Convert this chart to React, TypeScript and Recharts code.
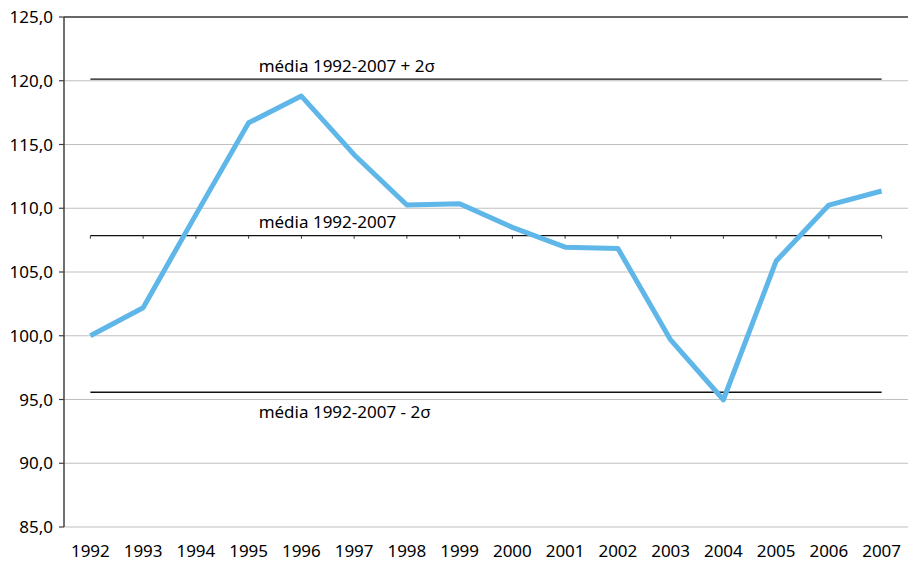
import React from "react";
import {
  LineChart,
  Line,
  XAxis,
  YAxis,
  CartesianGrid,
  ReferenceLine,
} from "recharts";

const years = ["1992","1993","1994","1995","1996","1997","1998","1999","2000","2001","2002","2003","2004","2005","2006","2007"];
const index = [100.0, 102.2, 109.5, 116.7, 118.8, 114.2, 110.25, 110.35, 108.5, 106.95, 106.85, 99.67, 94.98, 105.86, 110.25, 111.35];
const mean = 107.85;
const twoSigma = 12.28;
const yTicks = [85, 90, 95, 100, 105, 110, 115, 120, 125];
const boundaryTicks = [0,1,2,3,4,5,6,7,8,9,10,11,12,13,14,15,16];
const labelUpper = "média 1992-2007 + 2σ";
const labelMean = "média 1992-2007";
const labelLower = "média 1992-2007 - 2σ";
const labelYearIndex = 3;

const data = years.map((y, i) => ({
  year: y,
  idx: i + 0.5,
  value: index[i],
  mean: mean,
  upper: mean + twoSigma,
  lower: mean - twoSigma,
}));

const FONT = "'Noto Sans', 'Open Sans', sans-serif";

const makeLabel = (text: string, dy: number) => (props: any) => {
  const { x, y, index: i } = props;
  if (i !== labelYearIndex) return null;
  return (
    <text x={x + 10} y={y + dy} fontSize={17} fontFamily={FONT} fill="#000" textAnchor="start">
      {text}
    </text>
  );
};

const MeanTickDot = (props: any) => {
  const { cx, cy, index: i } = props;
  if (cx == null || cy == null) return null;
  return <line key={`mt-${i}`} x1={cx} x2={cx} y1={cy} y2={cy + 3} stroke="#333" strokeWidth={1} />;
};

const fmt = (v: number) => v.toFixed(1).replace(".", ",");

export default function App() {
  return (
    <div style={{ position: "absolute", left: 0, top: 0, width: 908, height: 561, background: "#fff" }}>
      <LineChart
        width={908}
        height={561}
        data={data}
        margin={{ top: 17, right: 0, bottom: 0, left: 0 }}
      >
        <CartesianGrid horizontal vertical={false} stroke="#c0c0c0" strokeWidth={1.2} xAxisId="cat" yAxisId="y" />
        <XAxis
          xAxisId="cat"
          dataKey="year"
          type="category"
          scale="band"
          height={34}
          tickSize={0}
          tickMargin={18}
          axisLine={false}
          tickLine={false}
          interval={0}
          tick={{ fontSize: 17, fontFamily: FONT, fill: "#000" }}
        />
        <XAxis
          xAxisId="grid"
          dataKey="idx"
          type="number"
          domain={[0, 16]}
          allowDataOverflow
          ticks={boundaryTicks}
          tick={false}
          tickSize={4}
          height={0}
          axisLine={{ stroke: "#404040", strokeWidth: 1.5 }}
          tickLine={{ stroke: "#404040", strokeWidth: 1.2 }}
        />
        <YAxis
          yAxisId="y"
          width={64}
          domain={[85, 125]}
          ticks={yTicks}
          allowDataOverflow
          tickFormatter={fmt}
          tickSize={5}
          tickMargin={6}
          axisLine={{ stroke: "#404040", strokeWidth: 1.5 }}
          tickLine={{ stroke: "#404040", strokeWidth: 1.2 }}
          tick={{ fontSize: 17, fontFamily: FONT, fill: "#000" }}
        />
        <ReferenceLine yAxisId="y" xAxisId="cat" y={125} stroke="#404040" strokeWidth={1.5} />
        <Line
          xAxisId="cat"
          yAxisId="y"
          dataKey="upper"
          stroke="#111"
          strokeWidth={1.3}
          dot={false}
          isAnimationActive={false}
          label={makeLabel(labelUpper, -7)}
        />
        <Line
          xAxisId="cat"
          yAxisId="y"
          dataKey="mean"
          stroke="#111"
          strokeWidth={1.3}
          dot={<MeanTickDot />}
          isAnimationActive={false}
          label={makeLabel(labelMean, -8)}
        />
        <Line
          xAxisId="cat"
          yAxisId="y"
          dataKey="lower"
          stroke="#111"
          strokeWidth={1.3}
          dot={false}
          isAnimationActive={false}
          label={makeLabel(labelLower, 26)}
        />
        <Line
          xAxisId="cat"
          yAxisId="y"
          dataKey="value"
          stroke="#5fb7e9"
          strokeWidth={5}
          strokeLinejoin="round"
          dot={false}
          isAnimationActive={false}
        />
      </LineChart>
    </div>
  );
}
